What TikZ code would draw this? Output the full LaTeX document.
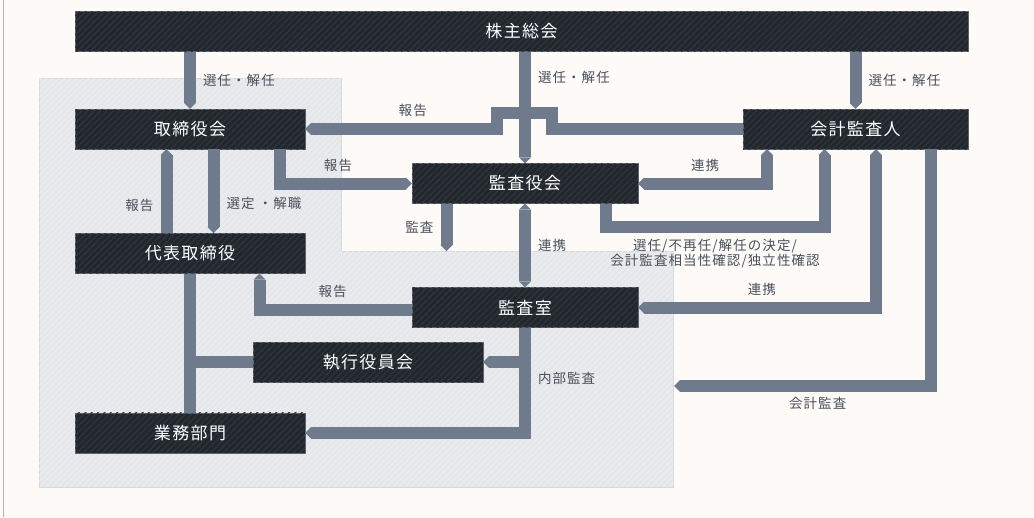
\documentclass[tikz,border=0pt]{standalone}
\usepackage{fontspec}
\setmainfont{Noto Sans CJK JP}
\newfontfamily\boxfont[LetterSpace=8]{Noto Sans CJK JP}
\newfontfamily\lblfont[LetterSpace=8]{Noto Sans CJK JP}
\usepackage{tikz}
\usetikzlibrary{arrows.meta}
\usetikzlibrary{patterns.meta}
\usetikzlibrary{positioning}
\definecolor{clpaper}{HTML}{FDFAF7}
\definecolor{clborder}{HTML}{B4B4B4}
\definecolor{clbox}{HTML}{22262D}
\definecolor{clboxhatch}{HTML}{30353D}
\definecolor{clboxline}{HTML}{5E656F}
\definecolor{clband}{HTML}{6F7B8D}
\definecolor{clshade}{HTML}{E5E7EA}
\definecolor{clshadehatch}{HTML}{EEEFF1}
\definecolor{clshadeline}{HTML}{D5D8DC}
\definecolor{cltext}{HTML}{4A505B}
\tikzstyle{orgblock} = [rectangle, draw=clboxline, fill=clbox, text=white, minimum width=230pt, minimum height=40pt, inner sep=0pt, font=\boxfont\fontsize{17}{20}\selectfont, postaction={pattern={Lines[angle=45,distance=4.5pt,line width=1.2pt]}, pattern color=clboxhatch}]
\tikzstyle{band} = [draw=clband, line width=12pt, line join=miter]
\tikzstyle{lbl} = [text=cltext, inner sep=1pt, font=\lblfont\fontsize{13.5}{15.5}\selectfont]
\tikzstyle{shadearea} = [draw=clshadeline, fill=clshade, postaction={pattern={Lines[angle=45,distance=4pt,line width=1pt]}, pattern color=clshadehatch}]

\begin{document}
\begin{tikzpicture}[x=1pt, y=-1pt, >={Triangle[length=6pt,width=12pt,line width=0pt]}]
    \fill [clpaper] (0,0) rectangle (1034,517);
    \useasboundingbox (0,0) rectangle (1034,517);
    \draw [clborder, line width=1.2pt] (3.5,0) -- (3.5,517);

    % audit scope
    \path [shadearea] (39,78) -- (341,78) -- (341,251) -- (673,251) -- (673,487) -- (39,487) -- cycle;

    \node [orgblock, minimum width=893pt] (agm) at (521.5,31.5) {株主総会};
    \node [orgblock] (board) at (190,129) {取締役会};
    \node [orgblock, minimum width=225pt] (auditor) at (855.5,129) {会計監査人};
    \node [orgblock, minimum width=226pt] (kansa) at (525,183.5) {監査役会};
    \node [orgblock, below=84pt of board] (ceo) {代表取締役};
    \node [orgblock, minimum width=226pt] (iaudit) at (525,307.5) {監査室};
    \node [orgblock] (exec) at (368,362) {執行役員会};
    \node [orgblock, below=139pt of ceo] (ops) {業務部門};

    \coordinate (kansaend) at (446.5,251);
    \coordinate (kaikeiend) at (674,386);

    \path [band,->] (board.north |- agm.south) -- node[lbl, right=6pt] {選任・解任} (board.north);
    \path [band,->] (kansa.north |- agm.south) -- node[lbl, right=6pt, pos=0.23] {選任・解任} (kansa.north);
    \path [band,->] (auditor.north |- agm.south) -- node[lbl, right=6pt] {選任・解任} (auditor.north);

    % report jumps over the line above
    \path [band,->] (auditor.west) -| ++(-190.5,-16) -| ++(-55,16) -- node[lbl, above=5pt, pos=0.44] {報告} (board.east);

    \path [band,->] ([xshift=-23.5pt]ceo.north) -- node[lbl, left=6pt, pos=0.33] {報告} ([xshift=-23.5pt]board.south);
    \path [band,->] ([xshift=23.5pt]board.south) -- node[lbl, right=6pt, pos=0.65] {選定 ・解職} ([xshift=23.5pt]ceo.north);
    \path [band,->] ([xshift=90pt]board.south) |- node[lbl, above=5pt, pos=0.72] {報告} (kansa.west);

    \path [band,<->] ([xshift=-88.5pt]auditor.south) |- node[lbl, above=5pt, pos=0.74] {連携} (kansa.east);
    \path [band,->] ([xshift=80.5pt]kansa.south) -- ++(0,23) -| node[lbl, below=5pt, pos=0.25, align=center] {選任/不再任/解任の決定/\\会計監査相当性確認/独立性確認} ([xshift=-31pt]auditor.south);
    \path [band,->] ([xshift=-78.5pt]kansa.south) -- node[lbl, left=6pt] {監査} (kansaend);
    \path [band,<->] (kansa.south) -- node[lbl, right=6pt] {連携} (iaudit.north);

    \path [band,<->] ([xshift=20.5pt]auditor.south) |- node[lbl, above=5pt, pos=0.74] {連携} (iaudit.east);
    \path [band,->] ([xshift=75pt]auditor.south) |- node[lbl, below=4pt, pos=0.72] {会計監査} (kaikeiend);

    \path [band,->] ([yshift=-2pt]iaudit.west) -| node[lbl, above=5pt, pos=0.26] {報告} ([xshift=69.5pt]ceo.south);
    \path [band,->] (iaudit.south) |- node[lbl, right=6pt, pos=0.24] {内部監査} (ops.east);
    \path [band,->] (iaudit.south |- exec.east) -- (exec.east);

    \path [band] (ceo.south) -- (ops.north);
    \path [band] (ceo.south |- exec.west) -- (exec.west);
\end{tikzpicture}
\end{document}
